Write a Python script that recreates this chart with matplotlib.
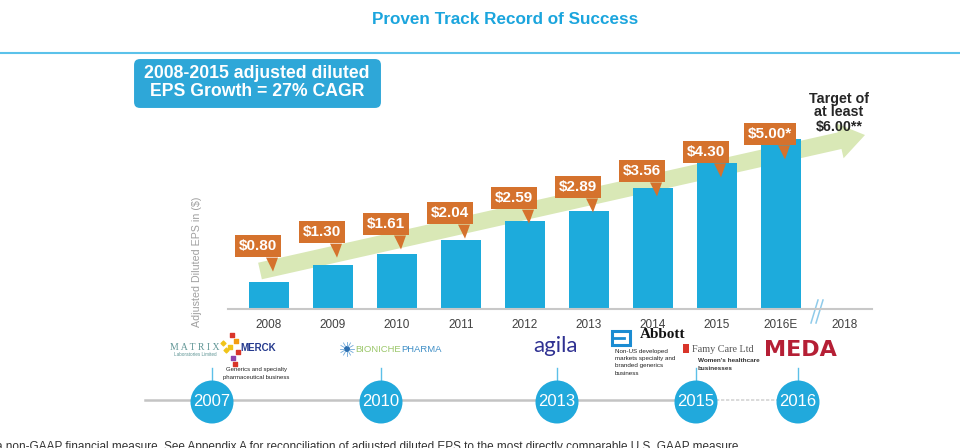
import math
import matplotlib
matplotlib.use('Agg')
import matplotlib.pyplot as plt
from matplotlib.patches import FancyBboxPatch, FancyArrow, Polygon, Circle, Rectangle

plt.rcParams['font.family'] = ['Liberation Sans', 'DejaVu Sans']

# ---------------- data ----------------
years = ['2008', '2009', '2010', '2011', '2012', '2013', '2014', '2015', '2016E', '2018']
eps = [0.80, 1.30, 1.61, 2.04, 2.59, 2.89, 3.56, 4.30, 5.00]
eps_labels = ['$0.80', '$1.30', '$1.61', '$2.04', '$2.59', '$2.89', '$3.56', '$4.30', '$5.00*']
milestone_years = ['2007', '2010', '2013', '2015', '2016']
title = 'Proven Track Record of Success'
cagr_text = ['2008-2015 adjusted diluted', 'EPS Growth = 27% CAGR']
target_text = ['Target of', 'at least', '$6.00**']
y_label = 'Adjusted Diluted EPS in ($)'
footnote = ('a non-GAAP financial measure. See Appendix A for reconciliation of adjusted '
            'diluted EPS to the most directly comparable U.S. GAAP measure.')

# ---------------- layout / style ----------------
label_lift = [1.05, 0.96, 0.89, 0.78, 0.67, 0.70, 0.50, 0.32, 0.15]
milestone_x = [212, 381, 557, 696, 798]
BAR = '#1DABDC'
ORANGE = '#D5722D'
GREEN = '#D9E8B6'
BLUE = '#21A9DC'

W, H = 960, 448
fig = plt.figure(figsize=(W / 100, H / 100), dpi=100)

deco = fig.add_axes([0, 0, 1, 1])
deco.set_xlim(0, W)
deco.set_ylim(H, 0)
deco.axis('off')
deco.set_zorder(0)

# axes geometry (pixels)
ax_l, ax_r, ax_base, ax_top = 228, 872, 309, 100
px_x = 64.0   # px per category
px_y = 34.0   # px per dollar
ax = fig.add_axes([ax_l / W, (H - ax_base) / H, (ax_r - ax_l) / W, (ax_base - ax_top) / H])
ax.set_zorder(2)
ax.patch.set_alpha(0)
x0 = 269
ax.set_xlim((ax_l - x0) / px_x, (ax_r - x0) / px_x)
ax.set_ylim(0, (ax_base - ax_top) / px_y)

# title + separator
deco.text(505, 19, title, ha='center', va='center', fontsize=12.3,
          fontweight='bold', color='#1BA5DD')
deco.plot([0, W], [53, 53], color='#5BC2EA', lw=1.5)

# green trend arrow
deco.add_patch(FancyArrow(260, 271, 605, -136, width=17, head_width=36, head_length=26,
                          length_includes_head=True, fc=GREEN, ec='none', zorder=1))

# CAGR box
deco.add_patch(FancyBboxPatch((133, 58), 249, 51,
                              boxstyle='round,pad=0,rounding_size=7',
                              fc='#2EA7D8', ec='white', lw=1.5, zorder=3))
deco.text(257, 73, cagr_text[0], ha='center', va='center', color='white',
          fontsize=12.7, fontweight='bold', zorder=4)
deco.text(257, 92, cagr_text[1], ha='center', va='center', color='white',
          fontsize=12.7, fontweight='bold', zorder=4)

# target text
for k, t in enumerate(target_text):
    deco.text(839, 98.5 + 14 * k, t, ha='center', va='center', fontsize=10.3,
              fontweight='bold', color='#262626')

# bars
xs = list(range(len(eps)))
ax.bar(xs, eps, width=0.64, color=BAR, zorder=2)
ax.set_xticks(range(len(years)))
ax.set_xticklabels(years)
ax.tick_params(axis='x', length=0, pad=7, labelsize=8.5, labelcolor='#404040')
ax.set_yticks([])
for s in ['left', 'right', 'top']:
    ax.spines[s].set_visible(False)
ax.spines['bottom'].set_color('#c8c8c8')
ax.spines['bottom'].set_linewidth(1.5)
ax.set_ylabel(y_label, fontsize=7.7, color='#a0a0a0')
ax.yaxis.set_label_coords((202 - ax_l) / (ax_r - ax_l), (ax_base - 262) / (ax_base - ax_top))

# value callouts
for i, (v, lab, lift) in enumerate(zip(eps, eps_labels, label_lift)):
    cx = i - 11 / px_x
    cy = v + lift
    ax.text(cx, cy, lab, ha='center', va='center', color='white', fontsize=11,
            fontweight='bold', zorder=5,
            bbox=dict(boxstyle='square,pad=0.25', fc=ORANGE, ec='none'))
    bottom = cy - 12.5 / px_y
    tail = Polygon([(i - 3 / px_x, bottom + 1 / px_y), (i + 9 / px_x, bottom + 1 / px_y),
                    (i + 4 / px_x, bottom - 13 / px_y)], closed=True, fc=ORANGE,
                   ec='none', zorder=4.5)
    ax.add_patch(tail)

# axis break marks
deco.plot([811, 818], [323, 300], color='#8FCBEA', lw=1.1)
deco.plot([816, 823], [323, 300], color='#8FCBEA', lw=1.1)

# ---------------- timeline ----------------
deco.plot([145, 700], [400, 400], color='#c4c4c4', lw=1.8, zorder=1)
deco.plot([716, 778], [400, 400], color='#d4d4d4', lw=1.2, ls=(0, (2, 1)), zorder=1)
for xm, ym in zip(milestone_x, milestone_years):
    deco.plot([xm, xm], [368, 381], color='#5CC0E8', lw=1, zorder=1)
    deco.add_patch(Circle((xm, 402), 21.5, fc=BLUE, ec='none', zorder=2))
    deco.text(xm, 402, ym, ha='center', va='center', color='white', fontsize=12, zorder=3)

# logos (text approximations)
deco.text(195, 347, 'M A T R I X', ha='center', va='center', fontsize=7,
          color='#5f9595', family='Liberation Serif')
deco.text(195, 355, 'Laboratories Limited', ha='center', va='center', fontsize=3.3,
          color='#5f9595')
deco.scatter([223, 226], [343, 350], s=6, marker='D', color='#F0C419', zorder=3)
deco.scatter([232, 236, 230, 238, 233, 235], [335, 341, 347, 352, 358, 364], s=5,
             marker='s', color=['#d9352a', '#f39c12', '#f0c419', '#d9352a', '#8e44ad', '#d9352a'],
             zorder=3)
deco.text(240, 348, 'MERCK', ha='left', va='center', fontsize=7, fontweight='bold',
          color='#253A8E')
deco.text(256, 370, 'Generics and specialty', ha='center', va='center', fontsize=4.3,
          color='#222222')
deco.text(256, 378, 'pharmaceutical business', ha='center', va='center', fontsize=4.3,
          color='#222222')

# Bioniche
deco.add_patch(Circle((347, 349), 3, fc='#2d6fb0', ec='none'))
for a in range(0, 360, 30):
    r = math.radians(a)
    deco.plot([347 + 3 * math.cos(r), 347 + 7 * math.cos(r)],
              [349 + 3 * math.sin(r), 349 + 7 * math.sin(r)], color='#6fa8d8', lw=0.6)
deco.text(355, 349, 'BIONICHE', ha='left', va='center', fontsize=6.8, color='#9BC76A')
deco.text(401, 349, 'PHARMA', ha='left', va='center', fontsize=6.8, color='#3F8FC7')

# agila
deco.text(555, 346, 'agila', ha='center', va='center', fontsize=16, color='#2F3192',
          family=['Lato', 'Liberation Sans'])

# Abbott
deco.add_patch(Rectangle((612, 331), 18, 14, fill=False, ec='#1B8CD2', lw=2.2))
deco.plot([612, 624], [338, 338], color='#1B8CD2', lw=2)
deco.text(640, 334, 'Abbott', ha='left', va='center', fontsize=11, fontweight='bold',
          color='#111111', family='Liberation Serif')
for k, t in enumerate(['Non-US developed', 'markets specialty and', 'branded generics', 'business']):
    deco.text(615, 351 + 7.5 * k, t, ha='left', va='center', fontsize=4.5, color='#222222')

# Famy Care
deco.add_patch(Rectangle((683, 344), 6, 9, fc='#D9352A', ec='none'))
deco.text(692, 349, 'Famy Care Ltd', ha='left', va='center', fontsize=7.3, color='#555555',
          family='Liberation Serif')
deco.text(698, 361, "Women's healthcare", ha='left', va='center', fontsize=4.6,
          fontweight='bold', color='#333333')
deco.text(698, 369, 'businesses', ha='left', va='center', fontsize=4.6,
          fontweight='bold', color='#333333')

# MEDA
deco.text(800, 350, 'MEDA', ha='center', va='center', fontsize=16, fontweight='heavy',
          color='#B51F35', family='DejaVu Sans')

# footnote (cut off at the bottom like the reference)
deco.text(-4, 441, footnote, ha='left', va='top', fontsize=8.5, color='#333333')

fig.savefig('out.png', dpi=100)
